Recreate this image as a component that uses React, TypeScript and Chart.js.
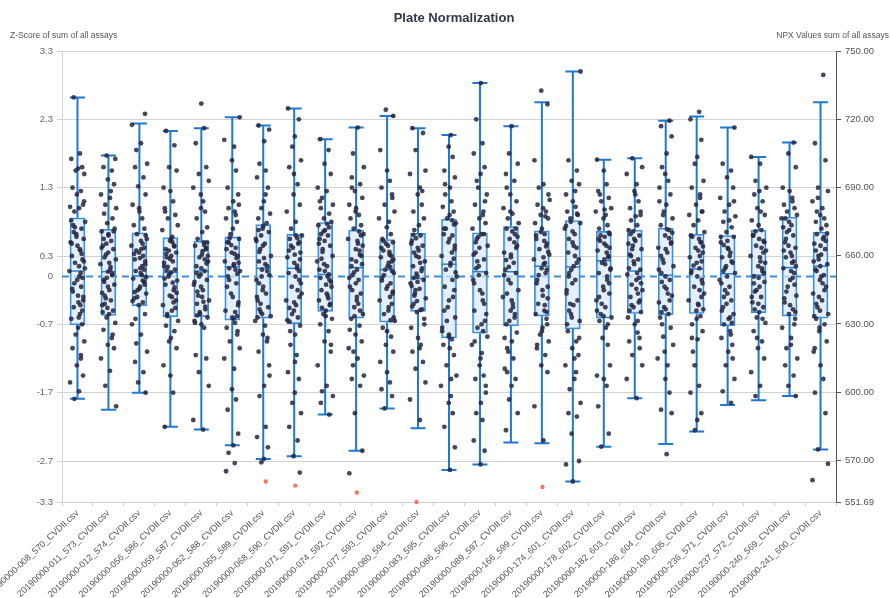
import React, { useEffect, useRef } from 'react';
import { Chart, registerables } from 'chart.js';

Chart.register(...registerables);

const categories = [
  '20190000-008_570_CVDII.csv', '20190000-011_573_CVDII.csv', '20190000-012_574_CVDII.csv',
  '20190000-056_586_CVDII.csv', '20190000-059_587_CVDII.csv', '20190000-062_588_CVDII.csv',
  '20190000-065_589_CVDII.csv', '20190000-068_590_CVDII.csv', '20190000-071_591_CVDII.csv',
  '20190000-074_592_CVDII.csv', '20190000-077_593_CVDII.csv', '20190000-080_594_CVDII.csv',
  '20190000-083_595_CVDII.csv', '20190000-086_596_CVDII.csv', '20190000-089_597_CVDII.csv',
  '20190000-166_599_CVDII.csv', '20190000-174_601_CVDII.csv', '20190000-178_602_CVDII.csv',
  '20190000-182_603_CVDII.csv', '20190000-186_604_CVDII.csv', '20190000-190_605_CVDII.csv',
  '20190000-236_571_CVDII.csv', '20190000-237_572_CVDII.csv', '20190000-240_569_CVDII.csv',
  '20190000-241_600_CVDII.csv',
];

const whiskerMax = [2.62, 1.77, 2.24, 2.13, 2.17, 2.33, 2.21, 2.46, 2.01, 2.18, 2.35, 2.17, 2.07, 2.83, 2.2, 2.55, 3.0, 1.71, 1.73, 2.28, 2.34, 2.18, 1.75, 1.96, 2.55];
const q3 = [0.86, 0.69, 0.64, 0.57, 0.52, 0.58, 0.76, 0.62, 0.79, 0.68, 0.54, 0.63, 0.84, 0.64, 0.73, 0.67, 0.82, 0.66, 0.68, 0.71, 0.62, 0.6, 0.68, 0.87, 0.65];
const medians = [0.08, 0.07, 0.01, 0.06, 0.08, 0.14, 0.12, 0.12, 0.03, 0.13, 0.1, -0.03, 0.18, 0.07, 0.07, 0.15, 0.14, 0.23, 0.08, 0.02, 0.11, 0.04, 0.02, 0.13, 0.15];
const q1 = [-0.71, -0.57, -0.43, -0.59, -0.59, -0.64, -0.61, -0.69, -0.51, -0.61, -0.67, -0.51, -0.9, -0.83, -0.72, -0.58, -0.77, -0.61, -0.54, -0.56, -0.54, -0.72, -0.53, -0.58, -0.61];
const whiskerMin = [-1.79, -1.95, -1.7, -2.2, -2.24, -2.47, -2.67, -2.63, -2.02, -2.55, -1.93, -2.22, -2.83, -2.75, -2.43, -2.44, -3.0, -2.49, -1.78, -2.45, -2.27, -1.88, -1.81, -1.75, -2.53];

const samplePoints: number[][] = [
  [2.62, 1.8, 1.72, 1.6, 1.58, 1.55, 1.5, 1.3, 1.25, 1.2, 1.05, 1.02, 1.0, 0.95, 0.8, 0.75, 0.7, 0.62, 0.55, 0.5, 0.45, 0.38, 0.3, 0.25, 0.2, 0.12, 0.08, 0.0, -0.05, -0.15, -0.22, -0.3, -0.38, -0.45, -0.55, -0.62, -0.7, -0.75, -0.85, -0.95, -1.05, -1.15, -1.3, -1.45, -1.55, -1.68, -1.79],
  [1.77, 1.72, 1.6, 1.55, 1.42, 1.35, 1.2, 1.15, 1.05, 1.0, 0.92, 0.85, 0.78, 0.7, 0.66, 0.6, 0.52, 0.45, 0.4, 0.32, 0.25, 0.18, 0.1, 0.07, 0.02, -0.05, -0.12, -0.2, -0.28, -0.35, -0.42, -0.5, -0.55, -0.6, -0.68, -0.78, -0.9, -1.0, -1.05, -1.2, -1.38, -1.6, -1.9],
  [2.38, 2.22, 1.95, 1.85, 1.65, 1.6, 1.45, 1.32, 1.2, 1.05, 0.95, 0.85, 0.75, 0.7, 0.62, 0.55, 0.45, 0.4, 0.35, 0.3, 0.25, 0.18, 0.12, 0.08, 0.02, -0.03, -0.08, -0.15, -0.2, -0.25, -0.32, -0.38, -0.42, -0.55, -0.7, -0.85, -0.98, -1.1, -1.25, -1.4, -1.55, -1.7],
  [2.13, 1.92, 1.6, 1.55, 1.3, 1.25, 1.1, 1.0, 0.9, 0.85, 0.75, 0.68, 0.58, 0.52, 0.45, 0.4, 0.35, 0.3, 0.28, 0.22, 0.15, 0.1, 0.06, 0.0, -0.06, -0.12, -0.2, -0.28, -0.35, -0.42, -0.5, -0.58, -0.65, -0.72, -0.8, -0.95, -1.05, -1.3, -1.45, -1.7, -2.2],
  [2.53, 2.17, 1.95, 1.6, 1.5, 1.4, 1.3, 1.1, 1.0, 0.95, 0.85, 0.72, 0.65, 0.55, 0.5, 0.45, 0.4, 0.32, 0.28, 0.22, 0.15, 0.08, 0.03, -0.05, -0.12, -0.2, -0.28, -0.35, -0.4, -0.48, -0.55, -0.6, -0.65, -0.7, -0.75, -1.15, -1.2, -1.4, -1.6, -2.1, -2.24],
  [2.33, 2.0, 1.9, 1.7, 1.55, 1.3, 1.2, 1.1, 1.0, 0.95, 0.85, 0.8, 0.7, 0.62, 0.55, 0.5, 0.42, 0.35, 0.3, 0.22, 0.18, 0.12, 0.08, 0.0, -0.1, -0.25, -0.38, -0.5, -0.6, -0.68, -0.75, -0.85, -0.95, -1.05, -1.2, -1.35, -1.65, -1.8, -1.95, -2.3, -2.47, -2.58, -2.73, -2.85],
  [2.21, 2.15, 1.98, 1.65, 1.55, 1.45, 1.3, 1.1, 1.0, 0.92, 0.85, 0.78, 0.7, 0.65, 0.55, 0.48, 0.4, 0.3, 0.22, 0.15, 0.1, 0.02, -0.05, -0.15, -0.25, -0.35, -0.45, -0.52, -0.58, -0.65, -0.72, -0.85, -0.95, -1.1, -1.3, -1.6, -1.75, -2.2, -2.35, -2.5, -2.67, -2.72],
  [2.46, 2.3, 2.05, 1.9, 1.7, 1.6, 1.35, 1.2, 1.05, 0.95, 0.8, 0.7, 0.6, 0.55, 0.48, 0.42, 0.35, 0.28, 0.2, 0.12, 0.05, -0.05, -0.15, -0.25, -0.35, -0.42, -0.5, -0.6, -0.66, -0.72, -0.85, -1.0, -1.15, -1.4, -1.5, -1.7, -1.85, -2.0, -2.2, -2.4, -2.63, -2.87],
  [2.01, 1.85, 1.65, 1.5, 1.3, 1.25, 1.15, 1.05, 1.0, 0.92, 0.85, 0.8, 0.75, 0.68, 0.6, 0.55, 0.45, 0.4, 0.3, 0.22, 0.15, 0.08, 0.03, -0.02, -0.08, -0.12, -0.2, -0.28, -0.35, -0.42, -0.5, -0.55, -0.62, -0.7, -0.8, -0.95, -1.1, -1.3, -1.6, -1.68, -1.75, -1.85, -2.02],
  [2.18, 1.8, 1.6, 1.45, 1.35, 1.25, 1.15, 1.05, 1.0, 0.9, 0.85, 0.75, 0.7, 0.62, 0.55, 0.48, 0.4, 0.32, 0.25, 0.18, 0.1, 0.02, -0.05, -0.15, -0.25, -0.35, -0.45, -0.55, -0.62, -0.72, -0.85, -0.95, -1.05, -1.2, -1.3, -1.45, -1.5, -1.6, -2.0, -2.55, -2.88],
  [2.44, 2.35, 1.85, 1.55, 1.4, 1.3, 1.2, 1.05, 0.95, 0.85, 0.8, 0.72, 0.62, 0.55, 0.5, 0.45, 0.38, 0.32, 0.28, 0.22, 0.15, 0.1, 0.05, -0.02, -0.1, -0.18, -0.25, -0.35, -0.45, -0.55, -0.65, -0.75, -0.88, -1.0, -1.1, -1.25, -1.4, -1.55, -1.65, -1.75, -1.93],
  [2.17, 2.1, 1.85, 1.55, 1.5, 1.3, 1.2, 1.05, 0.95, 0.85, 0.75, 0.68, 0.6, 0.52, 0.45, 0.38, 0.3, 0.22, 0.15, 0.08, 0.0, -0.05, -0.1, -0.18, -0.25, -0.32, -0.4, -0.48, -0.52, -0.62, -0.75, -0.9, -1.0, -1.1, -1.25, -1.35, -1.55, -1.8, -2.1],
  [2.07, 1.9, 1.75, 1.55, 1.45, 1.3, 1.2, 1.1, 1.02, 0.95, 0.9, 0.85, 0.78, 0.7, 0.6, 0.5, 0.4, 0.3, 0.2, 0.1, 0.0, -0.15, -0.3, -0.45, -0.6, -0.75, -0.85, -0.92, -1.0, -1.15, -1.3, -1.45, -1.6, -1.75, -1.85, -2.0, -2.2, -2.5, -2.83],
  [2.83, 2.3, 1.95, 1.8, 1.6, 1.5, 1.3, 1.2, 1.05, 0.95, 0.85, 0.78, 0.7, 0.62, 0.55, 0.45, 0.35, 0.25, 0.15, 0.05, -0.05, -0.2, -0.35, -0.5, -0.65, -0.75, -0.88, -1.0, -1.12, -1.3, -1.45, -1.5, -1.7, -1.85, -2.0, -2.1, -2.4, -2.55, -2.75],
  [2.2, 1.8, 1.65, 1.5, 1.4, 1.2, 1.1, 1.0, 0.92, 0.85, 0.78, 0.7, 0.62, 0.55, 0.45, 0.35, 0.28, 0.2, 0.1, 0.05, -0.05, -0.2, -0.3, -0.4, -0.5, -0.6, -0.7, -0.82, -0.95, -1.05, -1.2, -1.35, -1.5, -1.6, -1.8, -2.0, -2.25],
  [2.72, 2.52, 1.7, 1.35, 1.3, 1.12, 1.05, 0.95, 0.9, 0.85, 0.78, 0.7, 0.62, 0.55, 0.48, 0.4, 0.32, 0.25, 0.18, 0.12, 0.05, -0.05, -0.15, -0.28, -0.4, -0.5, -0.55, -0.62, -0.75, -0.85, -0.95, -1.05, -1.15, -1.3, -1.4, -1.9, -2.4],
  [3.0, 1.7, 1.55, 1.4, 1.35, 1.2, 1.1, 1.02, 0.95, 0.9, 0.85, 0.78, 0.7, 0.62, 0.5, 0.42, 0.35, 0.25, 0.15, 0.05, -0.05, -0.2, -0.35, -0.42, -0.55, -0.65, -0.8, -0.95, -1.05, -1.15, -1.3, -1.5, -1.65, -1.85, -2.0, -2.05, -2.3, -2.7, -2.75, -3.0],
  [1.71, 1.55, 1.35, 1.25, 1.15, 1.1, 1.0, 0.95, 0.9, 0.85, 0.75, 0.7, 0.62, 0.58, 0.52, 0.45, 0.38, 0.3, 0.25, 0.2, 0.12, 0.05, -0.05, -0.15, -0.25, -0.35, -0.45, -0.55, -0.6, -0.65, -0.7, -0.9, -1.3, -1.45, -1.5, -1.6, -1.9, -2.3, -2.49],
  [1.73, 1.6, 1.5, 1.35, 1.25, 1.1, 1.0, 0.95, 0.88, 0.82, 0.75, 0.68, 0.6, 0.52, 0.45, 0.4, 0.32, 0.25, 0.18, 0.1, 0.03, -0.05, -0.12, -0.2, -0.3, -0.38, -0.45, -0.52, -0.6, -0.7, -0.82, -0.95, -1.05, -1.15, -1.3, -1.5, -1.78],
  [2.28, 2.2, 2.05, 1.8, 1.6, 1.4, 1.3, 1.2, 1.05, 0.95, 0.85, 0.75, 0.68, 0.6, 0.5, 0.42, 0.35, 0.25, 0.15, 0.05, -0.05, -0.15, -0.28, -0.38, -0.48, -0.55, -0.6, -0.75, -0.88, -1.0, -1.2, -1.3, -1.5, -1.7, -1.95, -2.0, -2.6],
  [2.41, 2.3, 2.0, 1.75, 1.65, 1.4, 1.3, 1.15, 1.05, 0.95, 0.9, 0.82, 0.75, 0.65, 0.58, 0.5, 0.42, 0.35, 0.28, 0.2, 0.12, 0.05, -0.05, -0.15, -0.25, -0.35, -0.42, -0.5, -0.58, -0.7, -0.8, -0.92, -1.1, -1.6, -1.7, -2.0, -2.1, -2.25],
  [2.18, 1.65, 1.55, 1.45, 1.3, 1.15, 1.05, 0.95, 0.88, 0.8, 0.72, 0.65, 0.58, 0.5, 0.42, 0.35, 0.28, 0.2, 0.12, 0.05, -0.05, -0.15, -0.25, -0.35, -0.45, -0.55, -0.62, -0.7, -0.8, -0.9, -1.0, -1.1, -1.3, -1.5, -1.68, -1.85],
  [1.75, 1.65, 1.4, 1.3, 1.2, 1.1, 1.0, 0.9, 0.82, 0.75, 0.68, 0.6, 0.52, 0.45, 0.38, 0.3, 0.22, 0.15, 0.08, 0.0, -0.08, -0.15, -0.22, -0.3, -0.38, -0.45, -0.52, -0.6, -0.68, -0.8, -0.95, -1.05, -1.2, -1.4, -1.6, -1.75],
  [1.96, 1.8, 1.6, 1.3, 1.25, 1.15, 1.05, 1.0, 0.95, 0.9, 0.85, 0.75, 0.68, 0.6, 0.5, 0.42, 0.35, 0.28, 0.2, 0.12, 0.05, -0.05, -0.15, -0.28, -0.38, -0.48, -0.55, -0.62, -0.75, -0.9, -1.05, -1.2, -1.3, -1.45, -1.6, -1.75],
  [2.95, 1.95, 1.7, 1.3, 1.25, 1.1, 1.0, 0.9, 0.85, 0.8, 0.75, 0.7, 0.62, 0.55, 0.48, 0.4, 0.32, 0.25, 0.18, 0.1, 0.02, -0.05, -0.15, -0.25, -0.35, -0.45, -0.55, -0.62, -0.7, -0.8, -0.95, -1.1, -1.3, -1.5, -1.7, -2.0, -2.53, -2.74, -2.98],
];

// additional, densely packed samples around each box
const extraPoints: number[][] = [
  [0.82, 0.72, 0.65, 0.58, 0.48, 0.4, 0.33, 0.22, 0.15, 0.05, -0.02, -0.1, -0.18, -0.28, -0.35, -0.42, -0.5, -0.6, 1.1, -1.2],
  [0.66, 0.62, 0.55, 0.48, 0.42, 0.35, 0.28, 0.2, 0.14, 0.04, -0.02, -0.08, -0.15, -0.24, -0.32, -0.4, -0.46, -0.52, 1.25, -0.85],
  [0.6, 0.52, 0.48, 0.42, 0.38, 0.33, 0.27, 0.22, 0.15, 0.1, 0.05, -0.01, -0.06, -0.12, -0.18, -0.23, -0.3, -0.36, 1.0, -0.62],
  [0.55, 0.5, 0.44, 0.38, 0.33, 0.26, 0.2, 0.14, 0.09, 0.03, -0.03, -0.09, -0.16, -0.24, -0.3, -0.38, -0.46, -0.55, 0.95, -0.9],
  [0.5, 0.46, 0.42, 0.37, 0.3, 0.25, 0.19, 0.12, 0.05, 0.0, -0.08, -0.15, -0.22, -0.3, -0.37, -0.44, -0.52, -0.57, 1.2, -0.68],
  [0.56, 0.5, 0.46, 0.4, 0.33, 0.27, 0.2, 0.16, 0.1, 0.04, -0.05, -0.15, -0.3, -0.42, -0.52, -0.58, -0.62, 1.05, 0.9, -0.8],
  [0.74, 0.68, 0.6, 0.52, 0.45, 0.36, 0.27, 0.18, 0.08, 0.0, -0.1, -0.2, -0.3, -0.4, -0.48, -0.55, -0.6, 1.2, -0.9, -1.45],
  [0.6, 0.56, 0.5, 0.45, 0.38, 0.32, 0.25, 0.16, 0.08, 0.0, -0.1, -0.2, -0.3, -0.38, -0.46, -0.55, -0.64, 1.5, -0.8, -1.25],
  [0.77, 0.72, 0.66, 0.62, 0.52, 0.48, 0.36, 0.26, 0.18, 0.1, 0.0, -0.05, -0.15, -0.25, -0.32, -0.4, -0.46, 1.1, -0.58, -1.0],
  [0.66, 0.6, 0.52, 0.45, 0.38, 0.3, 0.22, 0.15, 0.06, -0.02, -0.1, -0.2, -0.3, -0.4, -0.5, -0.58, 1.3, 0.95, -0.78, -1.1],
  [0.52, 0.48, 0.42, 0.36, 0.3, 0.25, 0.2, 0.14, 0.08, 0.02, -0.06, -0.14, -0.22, -0.3, -0.4, -0.5, -0.6, -0.64, 1.15, -0.8],
  [0.61, 0.56, 0.48, 0.42, 0.35, 0.28, 0.2, 0.12, 0.04, -0.02, -0.08, -0.14, -0.2, -0.28, -0.36, -0.44, -0.49, 1.25, -0.7, -1.05],
  [0.82, 0.76, 0.7, 0.62, 0.55, 0.45, 0.35, 0.26, 0.16, 0.06, -0.05, -0.2, -0.35, -0.5, -0.65, -0.8, -0.88, 1.35, -1.05, -1.5],
  [0.62, 0.58, 0.5, 0.42, 0.32, 0.22, 0.12, 0.02, -0.1, -0.25, -0.4, -0.55, -0.7, -0.8, 1.1, 1.4, -0.95, -1.2, -1.6, 0.9],
  [0.7, 0.66, 0.58, 0.5, 0.42, 0.32, 0.24, 0.14, 0.02, -0.1, -0.25, -0.35, -0.45, -0.55, -0.65, 1.3, 0.95, -0.9, -1.1, -1.4],
  [0.65, 0.6, 0.52, 0.44, 0.36, 0.28, 0.2, 0.1, 0.02, -0.1, -0.2, -0.32, -0.42, -0.52, 1.0, 1.2, 0.88, -0.7, -0.8, -1.0],
  [0.8, 0.74, 0.66, 0.55, 0.45, 0.3, 0.2, 0.1, 0.0, -0.1, -0.25, -0.4, -0.5, -0.6, -0.7, 1.25, 0.92, -0.9, -1.2, -1.4],
  [0.64, 0.6, 0.55, 0.48, 0.42, 0.35, 0.28, 0.18, 0.1, 0.0, -0.1, -0.2, -0.3, -0.4, -0.5, -0.58, 1.2, 0.98, -0.75, -1.0],
  [0.66, 0.62, 0.55, 0.48, 0.4, 0.3, 0.22, 0.12, 0.05, -0.02, -0.1, -0.18, -0.25, -0.35, -0.42, -0.5, 1.2, 0.9, -0.65, -0.9],
  [0.69, 0.64, 0.56, 0.48, 0.4, 0.3, 0.2, 0.1, 0.0, -0.08, -0.18, -0.25, -0.35, -0.45, -0.52, 1.5, 1.1, 0.9, -0.7, -1.1],
  [0.6, 0.55, 0.5, 0.44, 0.38, 0.3, 0.22, 0.16, 0.08, 0.0, -0.1, -0.2, -0.3, -0.4, -0.48, 1.2, 0.95, -0.62, -0.9, -1.3],
  [0.58, 0.52, 0.46, 0.4, 0.3, 0.22, 0.15, 0.08, 0.0, -0.1, -0.2, -0.3, -0.4, -0.5, -0.6, -0.68, 1.1, 0.82, -0.85, -1.2],
  [0.66, 0.6, 0.55, 0.5, 0.42, 0.35, 0.28, 0.2, 0.12, 0.05, -0.02, -0.1, -0.2, -0.3, -0.4, -0.48, 1.25, 0.95, -0.62, -0.9],
  [0.85, 0.8, 0.72, 0.65, 0.55, 0.45, 0.38, 0.3, 0.22, 0.15, 0.08, -0.02, -0.12, -0.22, -0.32, -0.42, -0.52, 1.1, -0.7, -1.0],
  [0.63, 0.58, 0.52, 0.45, 0.38, 0.3, 0.22, 0.15, 0.08, 0.0, -0.1, -0.2, -0.3, -0.4, -0.5, -0.58, 1.15, 0.95, -0.75, -1.05],
];

const redCategoryIndex = [6, 7, 9, 11, 15];
const redValues = [-3.0, -3.06, -3.16, -3.3, -3.08];

const leftTicks = [3.3, 2.3, 1.3, 0.3, 0, -0.7, -1.7, -2.7, -3.3];
const rightTicks = [750, 720, 690, 660, 630, 600, 570, 551.69];

// fixed horizontal spread of dots inside a column (category units)
const JITTER = [-0.12, 0.08, -0.2, 0.15, 0.02, -0.06, 0.22, -0.16, 0.11, -0.02, 0.18, -0.24, 0.05, -0.1, 0.25, -0.14, 0.13, -0.04, 0.2, -0.22, 0.0, 0.09, -0.18, 0.16, -0.08, 0.24, -0.26, 0.06, -0.01, 0.12, -0.15, 0.19, 0.03];

const FONT = '"Liberation Sans", Arial, sans-serif';

export default function App() {
  const ref = useRef<HTMLCanvasElement | null>(null);

  useEffect(() => {
    const canvas = ref.current;
    if (!canvas) return;

    const dots = [
      ...samplePoints.flatMap((arr, c) =>
        arr.map((v, k) => ({ x: c + JITTER[(k + c * 5) % JITTER.length], y: v }))
      ),
      ...extraPoints.flatMap((arr, c) =>
        arr.map((v, k) => ({ x: c + JITTER[(k * 2 + c * 7 + 11) % JITTER.length] * 0.85, y: v }))
      ),
    ];
    const reds = redCategoryIndex.map((c, i) => ({ x: c + JITTER[(c * 3) % JITTER.length] * 0.4, y: redValues[i] }));
    const boxes = q1.map((v, i) => ({ x: i, y: [v, q3[i]] }));

    const overlay = {
      id: 'overlay',
      beforeDatasetsDraw(chart: any) {
        const { ctx, chartArea } = chart;
        const xs = chart.scales.x;
        const ys = chart.scales.y;
        ctx.save();
        ctx.strokeStyle = '#1f78d1';
        ctx.lineWidth = 2;
        for (let i = 0; i < categories.length; i++) {
          const x = xs.getPixelForValue(i);
          ctx.beginPath();
          ctx.moveTo(x, ys.getPixelForValue(q3[i]));
          ctx.lineTo(x, ys.getPixelForValue(whiskerMax[i]));
          ctx.moveTo(x, ys.getPixelForValue(q1[i]));
          ctx.lineTo(x, ys.getPixelForValue(whiskerMin[i]));
          ctx.stroke();
          ctx.beginPath();
          ctx.moveTo(x - 7.5, ys.getPixelForValue(whiskerMax[i]));
          ctx.lineTo(x + 7.5, ys.getPixelForValue(whiskerMax[i]));
          ctx.moveTo(x - 7.5, ys.getPixelForValue(whiskerMin[i]));
          ctx.lineTo(x + 7.5, ys.getPixelForValue(whiskerMin[i]));
          ctx.stroke();
        }
        const y0 = ys.getPixelForValue(0);
        ctx.strokeStyle = '#3b8ddb';
        ctx.lineWidth = 2;
        ctx.setLineDash([7, 5]);
        ctx.beginPath();
        ctx.moveTo(chartArea.left, y0);
        ctx.lineTo(chartArea.right, y0);
        ctx.stroke();
        ctx.restore();
      },
      afterDatasetDraw(chart: any, args: any) {
        if (args.index !== 0) return;
        const { ctx } = chart;
        const xs = chart.scales.x;
        const ys = chart.scales.y;
        ctx.save();
        ctx.strokeStyle = '#2a80d6';
        ctx.lineWidth = 1.5;
        for (let i = 0; i < categories.length; i++) {
          const x = xs.getPixelForValue(i);
          const y = ys.getPixelForValue(medians[i]);
          ctx.beginPath();
          ctx.moveTo(x - 7.5, y);
          ctx.lineTo(x + 7.5, y);
          ctx.stroke();
        }
        ctx.restore();
      },
      afterDraw(chart: any) {
        const { ctx, chartArea } = chart;
        ctx.save();
        ctx.textBaseline = 'middle';
        ctx.fillStyle = '#2f3a4a';
        ctx.font = `bold 13px ${FONT}`;
        ctx.textAlign = 'center';
        ctx.fillText('Plate Normalization', (chartArea.left + chartArea.right) / 2 + 5, 18);
        ctx.font = `8.5px ${FONT}`;
        ctx.fillStyle = '#555';
        ctx.textAlign = 'left';
        ctx.fillText('Z-Score of sum of all assays', 10, 36);
        ctx.textAlign = 'right';
        ctx.fillText('NPX Values sum of all assays', 889, 36);
        ctx.restore();
      },
    };

    const chart = new Chart(canvas, {
      type: 'bar',
      data: {
        datasets: [
          {
            type: 'bar',
            label: 'box',
            data: boxes,
            backgroundColor: 'rgba(218,233,248,0.75)',
            borderColor: '#3a8ee0',
            borderWidth: 1.6,
            borderSkipped: false,
            barThickness: 15,
            order: 2,
          } as any,
          {
            type: 'scatter',
            label: 'samples',
            data: dots,
            backgroundColor: 'rgba(38,38,64,0.85)',
            borderWidth: 0,
            pointRadius: 2.4,
            order: 1,
            clip: false,
          } as any,
          {
            type: 'scatter',
            label: 'outliers',
            data: reds,
            backgroundColor: '#f4765f',
            borderWidth: 0,
            pointRadius: 2.2,
            order: 0,
            clip: false,
          } as any,
        ],
      },
      options: {
        responsive: false,
        animation: false,
        layout: { padding: { top: 51, left: 0, right: 0, bottom: 0 } },
        plugins: { legend: { display: false }, title: { display: false }, tooltip: { enabled: false } },
        scales: {
          x: {
            type: 'linear',
            offset: false,
            min: -0.5,
            max: 24.5,
            afterBuildTicks: (s: any) => { s.ticks = categories.map((_, i) => ({ value: i })); },
            grid: { drawOnChartArea: false, drawTicks: true, tickLength: 4, color: '#cfcfcf', offset: true },
            border: { display: true, color: '#cfcfcf' },
            ticks: {
              autoSkip: false, minRotation: 43, maxRotation: 43, color: '#555', padding: 2,
              font: { family: FONT, size: 9 },
              callback: (v: any) => categories[Math.round(Number(v))],
            },
            afterFit: (s: any) => { s.height = 96; s.paddingLeft = 0; s.paddingRight = 0; },
          },
          y: {
            position: 'left',
            min: -3.3,
            max: 3.3,
            afterBuildTicks: (s: any) => { s.ticks = leftTicks.map((v) => ({ value: v })); },
            ticks: { color: '#666', padding: 4, font: { family: FONT, size: 9.5 }, callback: (v: any) => String(v) },
            grid: {
              color: (c: any) => (c.tick && c.tick.value === 0 ? 'rgba(0,0,0,0)' : '#d2d2d2'),
              tickLength: 5,
            },
            border: { color: '#d2d2d2' },
            afterFit: (s: any) => { s.width = 62; },
          },
          y2: {
            position: 'right',
            min: 551.69,
            max: 750,
            afterBuildTicks: (s: any) => { s.ticks = rightTicks.map((v) => ({ value: v })); },
            ticks: { color: '#555', padding: 4, font: { family: FONT, size: 9.5 }, callback: (v: any) => Number(v).toFixed(2) },
            grid: { drawOnChartArea: false, color: '#555', tickLength: 5 },
            border: { color: '#555' },
            afterFit: (s: any) => { s.width = 55; },
          },
        },
      },
      plugins: [overlay],
    } as any);

    return () => chart.destroy();
  }, []);

  return (
    <div style={{ position: 'fixed', left: 0, top: 0, width: 891, height: 598, background: '#fff' }}>
      <canvas ref={ref} width={891} height={598} style={{ display: 'block' }} />
    </div>
  );
}
